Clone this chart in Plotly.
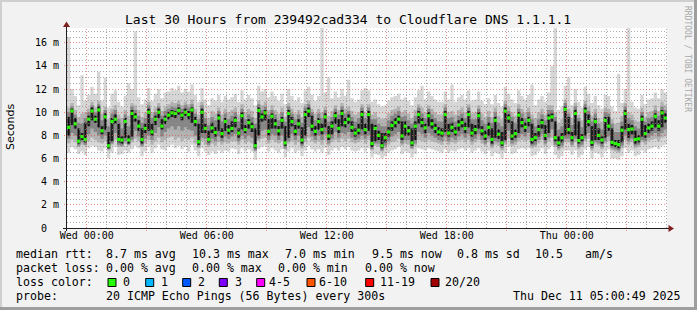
import plotly.graph_objects as go
import pandas as pd

# ---------------- data ----------------
START = "2025-12-09 23:00:49"
END = "2025-12-11 05:00:49"
STEP_MINUTES = 10

median_ms = [
    8.7, 10.1, 9.0, 7.5, 7.9, 7.65, 9.4, 10.1, 9.4, 10.2,
    8.4, 9.6, 7.1, 9.2, 9.4, 7.65, 7.6, 9.2, 7.6, 9.9,
    9.6, 8.8, 7.65, 8.6, 10.0, 8.3, 9.4, 10.0, 8.8, 9.4,
    9.75, 9.95, 9.9, 10.15, 9.75, 10.0, 9.8, 10.2, 9.2, 7.45,
    10.0, 8.6, 7.65, 8.65, 8.25, 9.5, 8.15, 9.2, 8.45, 8.6,
    9.3, 8.2, 9.7, 8.5, 9.1, 8.75, 7.1, 10.15, 9.6, 9.95,
    8.35, 9.65, 9.0, 8.4, 9.3, 7.35, 9.9, 9.2, 8.35, 9.0,
    7.6, 9.8, 10.1, 8.8, 8.35, 9.2, 8.5, 9.6, 7.95, 8.8,
    9.7, 8.6, 9.9, 9.1, 9.4, 8.7, 8.2, 8.45, 9.8, 8.5,
    9.8, 7.3, 8.6, 8.0, 7.1, 7.8, 8.3, 8.85, 9.1, 9.4,
    7.95, 8.8, 8.4, 7.35, 8.8, 9.8, 9.1, 8.65, 9.7, 9.0,
    8.6, 8.3, 8.2, 9.8, 8.2, 8.7, 8.3, 8.9, 9.1, 8.6,
    9.8, 8.2, 8.5, 9.7, 8.4, 7.95, 8.7, 7.65, 9.3, 8.1,
    7.35, 10.1, 9.5, 7.95, 8.15, 9.75, 9.1, 8.7, 9.3, 7.65,
    7.8, 8.5, 9.1, 8.0, 9.5, 9.6, 7.8, 7.35, 7.8, 10.25,
    8.5, 7.8, 9.9, 7.55, 7.8, 10.1, 9.2, 7.4, 9.2, 8.0,
    7.6, 9.3, 8.8, 7.4, 7.3, 7.2, 8.45, 9.9, 8.5, 8.55,
    7.65, 7.7, 9.4, 8.15, 8.65, 8.8, 9.65, 8.8, 9.95, 9.5,
]

core_lo_ms = [
    8.0, 8.9, 8.6, 7.3, 7.6, 7.4, 8.8, 9.3, 9.1, 8.7,
    8.1, 8.5, 6.9, 7.5, 9.0, 7.4, 7.3, 7.8, 7.3, 7.9,
    9.2, 8.4, 7.3, 8.2, 8.4, 8.0, 8.9, 9.5, 8.5, 9.0,
    9.4, 9.6, 9.5, 9.8, 9.3, 9.7, 9.4, 9.1, 8.8, 7.2,
    8.2, 8.2, 7.4, 8.2, 7.9, 8.4, 7.8, 8.4, 8.1, 8.3,
    8.7, 7.8, 8.5, 8.2, 8.6, 8.3, 6.9, 8.0, 9.2, 9.3,
    8.0, 8.6, 8.6, 8.0, 8.6, 7.1, 7.8, 8.8, 8.0, 8.6,
    7.3, 8.0, 9.6, 8.4, 8.0, 8.5, 8.1, 8.7, 7.6, 8.1,
    9.0, 8.2, 8.8, 8.7, 9.0, 8.3, 7.9, 8.1, 8.5, 8.1,
    8.4, 7.0, 7.5, 7.6, 6.9, 7.4, 7.9, 8.4, 8.7, 9.0,
    7.6, 8.0, 8.0, 7.1, 7.6, 9.0, 8.7, 8.2, 8.8, 8.6,
    8.2, 8.0, 7.9, 8.3, 7.9, 8.3, 8.0, 8.4, 8.7, 8.2,
    8.7, 7.9, 8.1, 8.6, 8.0, 7.6, 8.0, 7.3, 7.8, 7.7,
    7.1, 7.6, 9.1, 7.6, 7.8, 8.2, 8.7, 8.3, 8.8, 7.3,
    7.5, 7.9, 8.6, 7.6, 8.2, 9.2, 7.5, 7.1, 7.4, 8.0,
    8.1, 7.5, 8.0, 7.3, 7.5, 8.0, 8.8, 7.1, 7.6, 7.6,
    7.3, 7.8, 8.4, 7.1, 7.0, 6.9, 7.4, 8.5, 7.8, 8.1,
    7.3, 7.4, 7.9, 7.8, 8.2, 8.4, 8.7, 8.4, 8.7, 9.1,
]

core_hi_ms = [
    9.6, 10.3, 9.5, 8.6, 8.2, 9.1, 9.7, 10.4, 9.7, 10.5,
    8.8, 9.9, 8.3, 9.5, 9.8, 9.0, 7.9, 9.5, 8.0, 10.2,
    9.9, 9.3, 8.6, 9.0, 10.3, 9.0, 9.7, 10.3, 9.4, 9.7,
    10.0, 10.2, 10.1, 10.4, 10.0, 10.3, 10.1, 10.4, 9.6, 9.0,
    10.3, 9.0, 8.4, 9.1, 8.7, 9.8, 8.6, 9.5, 8.9, 9.2,
    9.6, 8.6, 10.0, 8.9, 9.4, 9.1, 8.6, 10.4, 9.9, 10.2,
    9.4, 9.9, 9.4, 8.8, 9.6, 8.8, 10.2, 9.6, 8.9, 9.4,
    8.7, 10.1, 10.4, 9.7, 8.8, 9.5, 9.0, 9.9, 8.8, 9.2,
    10.0, 9.4, 10.2, 9.5, 9.8, 9.2, 8.6, 9.0, 10.1, 9.0,
    10.1, 9.0, 8.9, 8.4, 8.2, 8.2, 8.7, 9.2, 9.5, 9.7,
    9.2, 9.2, 8.8, 8.6, 9.2, 10.1, 9.5, 9.0, 10.0, 9.4,
    9.0, 8.7, 8.6, 10.1, 9.0, 9.1, 8.7, 9.3, 9.5, 9.1,
    10.1, 9.0, 8.9, 10.0, 8.8, 8.4, 9.1, 8.6, 9.6, 8.5,
    8.3, 10.4, 9.8, 9.2, 8.5, 10.0, 9.5, 9.1, 9.6, 9.0,
    8.2, 8.9, 9.4, 8.9, 9.8, 9.9, 9.2, 7.9, 8.2, 10.5,
    9.6, 8.3, 10.2, 9.2, 8.1, 10.4, 9.8, 8.8, 9.5, 8.6,
    7.9, 9.6, 9.6, 8.6, 7.6, 7.6, 8.8, 10.2, 9.0, 8.9,
    8.4, 8.0, 9.7, 8.9, 9.0, 9.2, 9.9, 9.3, 10.2, 9.9,
]

p25_ms = [
    7.7, 8.2, 8.0, 7.1, 7.4, 7.2, 8.1, 8.6, 8.3, 8.0,
    7.7, 8.0, 6.8, 7.3, 8.2, 7.2, 7.1, 7.5, 7.2, 7.6,
    8.4, 7.9, 7.1, 7.7, 8.0, 7.6, 8.2, 8.7, 7.9, 8.3,
    8.6, 8.8, 8.5, 8.8, 8.4, 8.7, 8.5, 8.4, 8.0, 7.0,
    7.8, 7.7, 7.2, 7.7, 7.5, 7.9, 7.5, 7.9, 7.7, 7.9,
    8.1, 7.5, 8.0, 7.7, 8.0, 7.8, 6.7, 7.7, 8.4, 8.5,
    7.6, 8.1, 8.0, 7.6, 8.0, 6.9, 7.5, 8.1, 7.6, 8.0,
    7.1, 7.7, 8.7, 7.9, 7.6, 8.0, 7.6, 8.1, 7.3, 7.7,
    8.3, 7.8, 8.2, 8.1, 8.3, 7.8, 7.6, 7.7, 8.0, 7.7,
    8.0, 6.8, 7.3, 7.3, 6.7, 7.1, 7.5, 7.9, 8.1, 8.3,
    7.3, 7.6, 7.6, 6.9, 7.3, 8.3, 8.1, 7.8, 8.2, 8.0,
    7.8, 7.6, 7.5, 7.9, 7.5, 7.8, 7.6, 7.9, 8.1, 7.8,
    8.1, 7.5, 7.7, 8.1, 7.6, 7.3, 7.7, 7.1, 7.5, 7.4,
    6.9, 7.4, 8.4, 7.3, 7.5, 7.8, 8.1, 7.9, 8.2, 7.1,
    7.2, 7.6, 8.1, 7.3, 7.8, 8.5, 7.2, 6.9, 7.1, 7.7,
    7.7, 7.2, 7.7, 7.0, 7.2, 7.7, 8.2, 6.9, 7.4, 7.3,
    7.0, 7.5, 7.9, 6.9, 6.8, 6.7, 7.1, 8.0, 7.5, 7.7,
    7.1, 7.2, 7.6, 7.5, 7.8, 8.0, 8.2, 7.9, 8.2, 8.5,
]

p75_ms = [
    10.0, 10.5, 9.8, 9.1, 9.0, 9.5, 10.0, 10.6, 10.0, 10.7,
    9.3, 10.2, 8.8, 9.9, 10.2, 9.4, 8.6, 9.8, 8.8, 10.5,
    10.2, 9.7, 9.1, 9.5, 10.6, 9.5, 10.0, 10.5, 9.7, 10.1,
    10.3, 10.5, 10.4, 10.7, 10.3, 10.6, 10.4, 10.7, 9.9, 9.4,
    10.6, 9.5, 8.9, 9.6, 9.3, 10.1, 9.2, 9.9, 9.4, 9.7,
    10.0, 9.2, 10.3, 9.4, 9.8, 9.6, 9.0, 10.7, 10.2, 10.5,
    9.8, 10.2, 9.8, 9.3, 10.0, 9.2, 10.5, 9.9, 9.4, 9.8,
    9.1, 10.4, 10.7, 10.0, 9.3, 9.9, 9.5, 10.2, 9.2, 9.6,
    10.3, 9.8, 10.5, 9.9, 10.1, 9.6, 9.2, 9.5, 10.4, 9.5,
    10.4, 9.4, 9.4, 9.0, 8.8, 8.8, 9.3, 9.7, 9.9, 10.1,
    9.6, 9.7, 9.3, 9.0, 9.7, 10.4, 9.9, 9.5, 10.3, 9.8,
    9.5, 9.2, 9.2, 10.4, 9.5, 9.6, 9.2, 9.7, 9.9, 9.5,
    10.4, 9.4, 9.4, 10.3, 9.3, 9.0, 9.6, 9.1, 10.0, 9.1,
    8.8, 10.7, 10.1, 9.6, 9.1, 10.3, 9.9, 9.5, 10.0, 9.4,
    8.8, 9.4, 9.8, 9.3, 10.2, 10.2, 9.6, 8.5, 8.8, 10.8,
    9.9, 8.9, 10.5, 9.5, 8.7, 10.7, 10.1, 9.2, 9.9, 9.0,
    8.5, 10.0, 9.9, 9.0, 8.3, 8.3, 9.2, 10.5, 9.5, 9.3,
    8.8, 8.6, 10.0, 9.2, 9.5, 9.6, 10.2, 9.7, 10.5, 10.2,
]

p10_ms = [
    7.3, 7.6, 7.4, 7.0, 7.2, 7.1, 7.5, 7.8, 7.6, 7.4,
    7.3, 7.5, 6.7, 7.2, 7.6, 7.0, 7.0, 7.3, 7.1, 7.4,
    7.7, 7.5, 7.0, 7.3, 7.6, 7.2, 7.5, 7.8, 7.4, 7.6,
    7.8, 7.9, 7.6, 7.8, 7.5, 7.7, 7.6, 7.8, 7.3, 6.9,
    7.5, 7.2, 7.0, 7.3, 7.1, 7.4, 7.2, 7.4, 7.3, 7.5,
    7.5, 7.2, 7.6, 7.3, 7.5, 7.3, 6.6, 7.5, 7.7, 7.8,
    7.3, 7.6, 7.4, 7.3, 7.5, 6.8, 7.3, 7.5, 7.2, 7.4,
    6.9, 7.4, 7.8, 7.5, 7.3, 7.5, 7.2, 7.6, 7.1, 7.4,
    7.6, 7.4, 7.7, 7.5, 7.7, 7.4, 7.3, 7.4, 7.6, 7.3,
    7.6, 6.7, 7.1, 7.0, 6.6, 6.9, 7.2, 7.4, 7.5, 7.7,
    7.1, 7.3, 7.2, 6.8, 7.1, 7.6, 7.5, 7.4, 7.6, 7.5,
    7.4, 7.3, 7.2, 7.5, 7.2, 7.4, 7.3, 7.5, 7.6, 7.4,
    7.6, 7.2, 7.4, 7.6, 7.3, 7.1, 7.4, 6.9, 7.2, 7.1,
    6.7, 7.2, 7.7, 7.1, 7.2, 7.5, 7.6, 7.5, 7.6, 6.9,
    7.0, 7.3, 7.6, 7.1, 7.5, 7.8, 7.0, 6.7, 6.9, 7.4,
    7.4, 7.0, 7.4, 6.8, 7.0, 7.5, 7.7, 6.7, 7.2, 7.1,
    6.8, 7.3, 7.5, 6.7, 6.6, 6.5, 6.9, 7.6, 7.2, 7.4,
    6.9, 7.0, 7.4, 7.2, 7.5, 7.6, 7.7, 7.5, 7.8, 7.9,
]

p90_ms = [
    10.4, 10.8, 10.2, 9.6, 9.9, 10.0, 10.3, 10.9, 10.4, 11.0,
    9.9, 10.5, 9.4, 10.3, 10.6, 9.8, 9.5, 10.2, 9.7, 10.8,
    10.6, 10.2, 9.6, 10.0, 10.9, 10.0, 10.4, 10.8, 10.1, 10.5,
    10.7, 10.9, 10.8, 11.0, 10.6, 10.9, 10.7, 11.1, 10.3, 9.8,
    10.9, 10.0, 9.5, 10.1, 9.9, 10.4, 9.8, 10.3, 10.0, 10.2,
    10.4, 9.8, 10.7, 10.0, 10.3, 10.1, 9.5, 11.0, 10.6, 10.9,
    10.2, 10.6, 10.2, 9.9, 10.4, 9.6, 10.8, 10.3, 9.9, 10.2,
    9.6, 10.7, 11.0, 10.3, 9.9, 10.3, 10.0, 10.5, 9.7, 10.1,
    10.6, 10.2, 10.8, 10.3, 10.5, 10.1, 9.8, 10.0, 10.7, 10.0,
    10.7, 9.8, 10.0, 9.6, 9.4, 9.5, 9.9, 10.2, 10.3, 10.5,
    10.0, 10.2, 9.9, 9.5, 10.2, 10.7, 10.4, 10.0, 10.6, 10.3,
    10.0, 9.8, 9.8, 10.7, 10.0, 10.1, 9.8, 10.2, 10.4, 10.0,
    10.7, 9.9, 10.0, 10.6, 9.9, 9.6, 10.1, 9.6, 10.4, 9.7,
    9.4, 11.0, 10.5, 10.0, 9.7, 10.7, 10.3, 10.0, 10.4, 9.8,
    9.5, 10.0, 10.3, 9.8, 10.6, 10.6, 10.0, 9.1, 9.4, 11.1,
    10.3, 9.5, 10.8, 9.8, 9.3, 11.0, 10.5, 9.7, 10.3, 9.5,
    9.2, 10.4, 10.3, 9.4, 9.0, 9.1, 9.7, 10.8, 10.0, 9.8,
    9.3, 9.2, 10.4, 9.6, 10.0, 10.1, 10.6, 10.1, 10.9, 10.6,
]

min_ms = [
    6.5, 7.0, 6.8, 6.4, 6.6, 6.3, 6.9, 7.1, 7.0, 6.7,
    6.6, 6.9, 6.0, 6.5, 7.0, 6.3, 6.4, 6.7, 6.5, 6.8,
    7.1, 6.9, 6.2, 6.6, 7.0, 6.5, 6.9, 7.2, 6.8, 6.7,
    7.0, 7.2, 6.9, 7.1, 6.8, 7.0, 6.6, 7.2, 6.7, 6.2,
    6.9, 6.6, 6.3, 6.6, 6.4, 6.7, 6.5, 6.7, 6.6, 6.9,
    6.8, 6.4, 6.9, 6.6, 6.8, 6.6, 5.9, 6.8, 7.0, 7.1,
    6.6, 6.9, 6.7, 6.5, 6.8, 6.1, 6.6, 6.9, 6.5, 6.7,
    6.2, 6.7, 7.1, 6.8, 6.6, 6.8, 6.5, 6.9, 6.3, 6.7,
    6.9, 6.7, 7.0, 6.8, 7.0, 6.7, 6.6, 6.7, 6.9, 6.6,
    6.9, 6.1, 6.4, 6.3, 6.0, 6.2, 6.5, 6.7, 6.8, 7.0,
    6.4, 6.6, 6.5, 6.1, 6.4, 6.9, 6.8, 6.7, 6.9, 6.8,
    6.7, 6.6, 6.5, 6.8, 6.5, 6.7, 6.6, 6.8, 6.9, 6.7,
    6.9, 6.5, 6.7, 6.9, 6.6, 6.4, 6.7, 6.2, 6.5, 6.4,
    6.0, 6.5, 7.0, 6.4, 6.5, 6.8, 6.9, 6.8, 6.9, 6.2,
    6.3, 6.6, 6.9, 6.4, 6.8, 7.1, 6.3, 6.0, 6.2, 6.7,
    6.7, 6.3, 6.7, 6.1, 6.3, 6.8, 7.0, 6.0, 6.5, 6.4,
    6.1, 6.6, 6.8, 6.0, 6.0, 5.9, 6.2, 6.9, 6.5, 6.7,
    6.2, 6.3, 6.7, 6.5, 6.8, 6.9, 7.0, 6.8, 7.1, 7.2,
]

max_ms = [
    16.5, 12.0, 11.4, 10.6, 13.2, 11.0, 11.5, 12.2, 11.6, 13.5,
    11.0, 13.0, 10.4, 11.6, 11.9, 10.9, 10.5, 11.4, 12.5, 12.0,
    17.0, 11.3, 10.7, 11.1, 12.1, 11.0, 11.6, 12.0, 11.2, 11.7,
    11.8, 12.1, 11.9, 12.3, 11.7, 12.0, 11.8, 12.4, 11.5, 10.9,
    12.1, 11.1, 10.6, 11.2, 11.0, 11.5, 10.9, 11.4, 11.1, 11.3,
    11.6, 10.9, 11.9, 11.1, 11.5, 11.2, 10.6, 12.3, 11.8, 12.0,
    11.3, 11.8, 11.4, 11.0, 11.6, 10.7, 12.0, 11.4, 11.0, 11.3,
    10.8, 11.9, 12.2, 11.5, 11.0, 11.4, 17.5, 11.7, 13.0, 11.2,
    11.8, 11.3, 12.0, 11.4, 12.8, 11.2, 10.9, 11.1, 11.9, 12.1,
    11.9, 10.9, 11.1, 10.7, 10.5, 10.6, 11.0, 11.3, 11.4, 11.6,
    11.1, 11.3, 11.0, 10.6, 11.3, 11.9, 12.3, 11.1, 11.8, 11.4,
    11.1, 10.9, 10.9, 11.8, 11.1, 12.4, 10.9, 11.3, 11.5, 11.1,
    11.9, 11.0, 11.1, 11.8, 11.0, 10.7, 11.2, 10.7, 11.5, 10.8,
    10.5, 12.2, 11.6, 11.1, 10.8, 11.9, 11.4, 11.1, 11.5, 12.4,
    10.6, 11.1, 11.4, 10.9, 11.7, 14.0, 17.5, 10.2, 10.5, 12.3,
    13.0, 10.6, 12.0, 10.9, 10.4, 12.2, 11.6, 10.8, 11.4, 10.6,
    10.3, 11.5, 11.4, 10.5, 10.1, 13.3, 10.8, 12.0, 17.3, 10.9,
    10.4, 10.3, 11.5, 10.7, 11.1, 11.2, 11.7, 11.2, 12.0, 11.7,
]

y_tick_vals = [0, 2, 4, 6, 8, 10, 12, 14, 16]
y_tick_text = ["0\u00a0\u00a0", "2 m", "4 m", "6 m", "8 m", "10 m", "12 m", "14 m", "16 m"]
x_label_times = ["2025-12-10 00:00", "2025-12-10 06:00", "2025-12-10 12:00",
                 "2025-12-10 18:00", "2025-12-11 00:00"]
x_label_text = ["Wed 00:00", "Wed 06:00", "Wed 12:00", "Wed 18:00", "Thu 00:00"]

title_text = "Last 30 Hours from 239492cad334 to Cloudflare DNS 1.1.1.1"
rtt_items = ["8.7 ms avg", "10.3 ms max", "7.0 ms min", "9.5 ms now", "0.8 ms sd", "10.5", "am/s"]
loss_items = ["0.00 % avg", "0.00 % max", "0.00 % min", "0.00 % now"]
loss_labels = ["0", "1", "2", "3", "4-5", "6-10", "11-19", "20/20"]
loss_colors = ["#26ff00", "#00b8ff", "#0059ff", "#7e00ff", "#ff00ff", "#ff5500", "#ff0000", "#a10000"]
probe_text = "20 ICMP Echo Pings (56 Bytes) every 300s"
stamp_text = "Thu Dec 11 05:00:49 2025"

# ---------------- geometry / style ----------------
W, H = 697, 310
L, R, T, B = 67, 30, 28, 82
PW, PH = W - L - R, H - T - B
PX_PER_MS = 11.575
Y_MAX = PH / PX_PER_MS
MONO = "DejaVu Sans Mono"


def fx(p):  # pixel x -> paper
    return (p - L) / PW


def fy(p):  # pixel y -> paper
    return (T + PH - p) / PH


start = pd.Timestamp(START)
end = pd.Timestamp(END)
step = pd.Timedelta(minutes=STEP_MINUTES)
n = len(median_ms)
t_start = [start + i * step for i in range(n)]
t_edges = t_start + [end]
t_mid = [t + step / 2 for t in t_start]


def stepped(v):
    return list(v) + [v[-1]]


fig = go.Figure()


def band(lo, hi, color):
    fig.add_trace(go.Scatter(x=t_edges, y=stepped(lo), mode="lines", line=dict(width=0, shape="hv"),
                             hoverinfo="skip", showlegend=False))
    fig.add_trace(go.Scatter(x=t_edges, y=stepped(hi), mode="lines", line=dict(width=0, shape="hv"),
                             fill="tonexty", fillcolor=color, hoverinfo="skip", showlegend=False))


band(min_ms, max_ms, "#d6d6d6")
band(p10_ms, p90_ms, "#b2b2b2")
band(p25_ms, p75_ms, "#868686")
band(core_lo_ms, core_hi_ms, "#474747")

vx, vy = [], []
for t, a, b in zip(t_mid, core_lo_ms, core_hi_ms):
    vx += [t, t, None]
    vy += [a, b, None]
fig.add_trace(go.Scatter(x=vx, y=vy, mode="lines", line=dict(color="#0e0e0e", width=1.4),
                         hoverinfo="skip", showlegend=False))

fig.add_trace(go.Scatter(x=t_mid, y=median_ms, mode="markers",
                         marker=dict(symbol="square", size=3.2, color=loss_colors[0], line=dict(width=0)),
                         hoverinfo="skip", showlegend=False))

shapes = []
# grid on top of the graph (as rrdtool does)
minor_c = "rgba(143,143,143,0.75)"
major_c = "rgba(222,79,79,0.65)"
dash = "1px,2px"
h = pd.Timestamp("2025-12-10 00:00")
while h <= end:
    hrs = (h - start).total_seconds() / 3600.0
    xp = int(L + hrs * PW / 30.0) + 0.5
    is_major = h.hour % 3 == 0
    shapes.append(dict(type="line", xref="paper", yref="paper", x0=fx(xp), x1=fx(xp),
                       y0=fy(T + PH + (3 if is_major else 0)), y1=1, layer="above",
                       line=dict(color=major_c if is_major else minor_c, width=1, dash=dash)))
    h += pd.Timedelta(hours=1)
k = 1
while k * 0.5 <= Y_MAX:
    v = k * 0.5
    yp = int(T + PH - v * PX_PER_MS) + 0.5
    is_major = (k % 4 == 0)
    shapes.append(dict(type="line", xref="paper", yref="paper", x0=fx(L - (3 if is_major else 0)), x1=1,
                       y0=fy(yp), y1=fy(yp), layer="above",
                       line=dict(color=major_c if is_major else minor_c, width=1, dash=dash)))
    k += 1

# axes and arrows
axis_c = "#1f1f1f"
arrow_c = "#801f1f"
shapes.append(dict(type="line", xref="paper", yref="paper", x0=fx(63), x1=fx(669), y0=fy(228.5), y1=fy(228.5),
                   layer="above", line=dict(color=axis_c, width=1)))
shapes.append(dict(type="line", xref="paper", yref="paper", x0=fx(66.5), x1=fx(66.5), y0=fy(231), y1=fy(26),
                   layer="above", line=dict(color=axis_c, width=1)))
shapes.append(dict(type="path", xref="paper", yref="paper", layer="above",
                   path=f"M {fx(668.5)} {fy(225)} L {fx(674)} {fy(228.5)} L {fx(668.5)} {fy(232)} Z",
                   fillcolor=arrow_c, line=dict(width=0)))
shapes.append(dict(type="path", xref="paper", yref="paper", layer="above",
                   path=f"M {fx(63)} {fy(27)} L {fx(66.5)} {fy(21.5)} L {fx(70)} {fy(27)} Z",
                   fillcolor=arrow_c, line=dict(width=0)))

# 3D frame of the image
shapes.append(dict(type="rect", xref="paper", yref="paper", x0=fx(0), x1=fx(W), y0=fy(0), y1=fy(2),
                   fillcolor="#cfcfcf", line=dict(width=0), layer="above"))
shapes.append(dict(type="rect", xref="paper", yref="paper", x0=fx(0), x1=fx(2), y0=fy(0), y1=fy(H),
                   fillcolor="#cfcfcf", line=dict(width=0), layer="above"))
shapes.append(dict(type="rect", xref="paper", yref="paper", x0=fx(0), x1=fx(W), y0=fy(H - 3), y1=fy(H),
                   fillcolor="#9e9e9e", line=dict(width=0), layer="above"))
shapes.append(dict(type="rect", xref="paper", yref="paper", x0=fx(W - 3), x1=fx(W), y0=fy(0), y1=fy(H),
                   fillcolor="#9e9e9e", line=dict(width=0), layer="above"))

# loss colour squares
sq_left = [108, 145.7, 182.7, 219.3, 256.7, 307, 365.7, 431]
lab_left = [123, 160.5, 197.5, 234.5, 268.5, 319, 379.5, 444.5]
for xl, c in zip(sq_left, loss_colors):
    shapes.append(dict(type="rect", xref="paper", yref="paper", x0=fx(xl), x1=fx(xl + 8),
                       y0=fy(278.5), y1=fy(286.5), fillcolor=c, line=dict(color="#000000", width=1),
                       layer="above"))

ann = []


def text(s, xpix, ypix, size=11.6, family=MONO, color="#000000", anchor="left", angle=0):
    ann.append(dict(text=s, x=fx(xpix), y=fy(ypix), xref="paper", yref="paper", showarrow=False,
                    xanchor=anchor, yanchor="middle", textangle=angle, borderpad=0, borderwidth=0,
                    font=dict(family=family, size=size, color=color)))


text(title_text, 347.5, 19, size=13, anchor="center")
text("Seconds", 10, 127, size=11, family="DejaVu Sans", anchor="center", angle=-90)
text("RRDTOOL / TOBI OETIKER", 688, 59, size=8, color="#a8a8a8", anchor="center", angle=90)

ROW = [254, 268, 282, 296]
text("median rtt:", 15.5, ROW[0])
for s, xp in zip(rtt_items, [106, 191.8, 284.5, 371.6, 457.2, 535, 585]):
    text(s, xp, ROW[0])
text("packet loss:", 15.5, ROW[1])
for s, xp in zip(loss_items, [106.4, 192.4, 278.4, 364.8]):
    text(s, xp, ROW[1])
text("loss color:", 15.5, ROW[2])
for s, xp in zip(loss_labels, lab_left):
    text(s, xp, ROW[2])
text("probe:", 15.5, ROW[3])
text(probe_text, 106, ROW[3])
text(stamp_text, 512.5, ROW[3])

fig.update_layout(
    width=W, height=H,
    margin=dict(l=L, r=R, t=T, b=B, pad=0),
    paper_bgcolor="#f2f2f2", plot_bgcolor="#ffffff",
    showlegend=False,
    shapes=shapes, annotations=ann,
    xaxis=dict(range=[start, end], showgrid=False, zeroline=False, showline=False,
               tickmode="array", tickvals=x_label_times, ticktext=x_label_text,
               ticks="",
               tickfont=dict(family=MONO, size=10, color="#000000"), fixedrange=True),
    yaxis=dict(range=[0, Y_MAX], showgrid=False, zeroline=False, showline=False,
               tickmode="array", tickvals=y_tick_vals, ticktext=y_tick_text,
               ticks="outside", ticklen=5, tickcolor="rgba(0,0,0,0)",
               tickfont=dict(family=MONO, size=10, color="#000000"), fixedrange=True),
)

fig.write_html("out.html")
